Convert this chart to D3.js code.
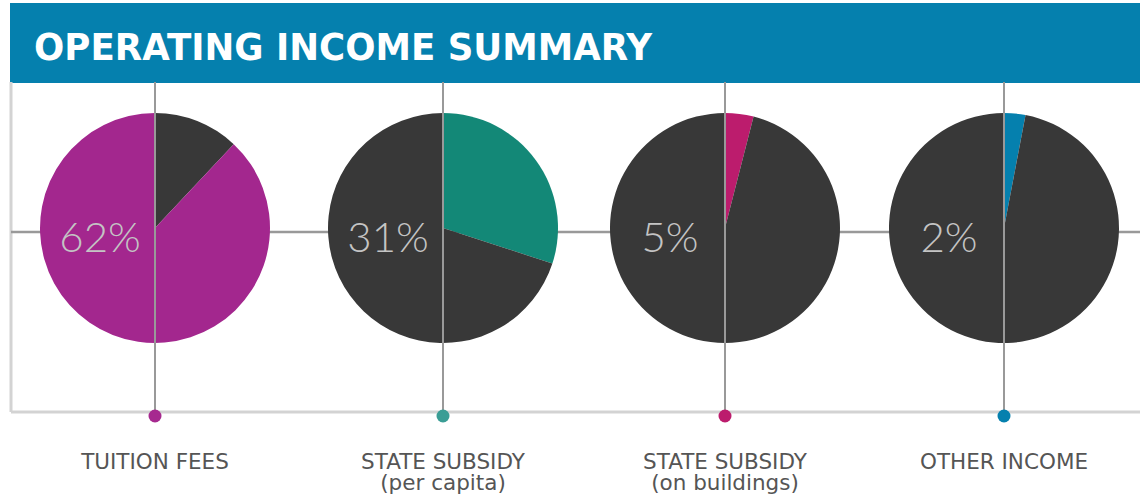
<!DOCTYPE html>
<html>
<head>
<meta charset="utf-8">
<script src="https://cdn.jsdelivr.net/npm/d3@7"></script>
<style>
  body { margin: 0; background: #fff; }
</style>
</head>
<body>
<div id="chart"></div>
<script>
// categories (second line of a label after "|")
const categories = ["TUITION FEES", "STATE SUBSIDY|(per capita)", "STATE SUBSIDY|(on buildings)", "OTHER INCOME"];
// printed percentages
const pctLabels = ["62%", "31%", "5%", "2%"];
// coloured slice as drawn, % of the circle
const highlight = [88, 30, 4, 3];
// tuition pie draws its dark wedge first
const darkFirst = [true, false, false, false];
const colors = ["#a3278e", "#138877", "#bc1c6d", "#0580ae"];
const dotColors = ["#a6298f", "#3a9d95", "#bc1c6d", "#0580ae"];

function drawChart() {
  const width = 1140;
  const height = 495;
  const top = 82, bottom = 412, left = 11;
  const cy = 228, r = 115;

  const svg = d3.select("#chart")
    .append("svg")
    .attr("width", width)
    .attr("height", height);

  const x = d3.scaleOrdinal()
    .domain(categories)
    .range([155, 443, 725, 1004]);

  // banner
  svg.append("rect")
    .attr("x", 10)
    .attr("y", 3)
    .attr("width", width - 10)
    .attr("height", 80)
    .attr("fill", "#0580ae");

  svg.append("text")
    .attr("x", 34)
    .attr("y", 60)
    .attr("textLength", 618)
    .attr("lengthAdjust", "spacingAndGlyphs")
    .style("font-family", "'DejaVu Sans', sans-serif")
    .style("font-weight", "bold")
    .style("font-size", "38px")
    .style("fill", "#fff")
    .text("OPERATING INCOME SUMMARY");

  // frame
  svg.append("line")
    .attr("x1", left).attr("x2", left)
    .attr("y1", top).attr("y2", bottom)
    .attr("stroke", "#d3d3d3")
    .attr("stroke-width", 3);

  svg.append("line")
    .attr("x1", left).attr("x2", width)
    .attr("y1", bottom).attr("y2", bottom)
    .attr("stroke", "#d3d3d3")
    .attr("stroke-width", 3);

  // middle gridline, sits behind pies
  svg.append("line")
    .attr("x1", left).attr("x2", width)
    .attr("y1", 232).attr("y2", 232)
    .attr("stroke", "#999")
    .attr("stroke-width", 2.5);

  const pie = d3.pie().sort(null).value(d => d.v);
  const arc = d3.arc().innerRadius(0).outerRadius(r);

  categories.forEach((cat, i) => {
    const cx = x(cat);
    let slices = [
      { v: highlight[i], fill: colors[i] },
      { v: 100 - highlight[i], fill: "#383838" }
    ];
    if (darkFirst[i]) slices = slices.reverse();

    const g = svg.append("g")
      .attr("transform", `translate(${cx},${cy})`);

    g.selectAll("path")
      .data(pie(slices))
      .join("path")
      .attr("d", arc)
      .attr("fill", d => d.data.fill);

    g.append("text")
      .attr("x", -55)
      .attr("y", 24)
      .attr("text-anchor", "middle")
      .style("font-family", "Lato, 'Open Sans', sans-serif")
      .style("font-weight", 300)
      .style("font-size", "42px")
      .style("fill", "#c4c4c4")
      .text(pctLabels[i]);
  });

  // vertical lines and dots on top
  categories.forEach((cat, i) => {
    const cx = x(cat);
    svg.append("line")
      .attr("x1", cx).attr("x2", cx)
      .attr("y1", top).attr("y2", 414)
      .attr("stroke", "#999")
      .attr("stroke-width", 2);

    svg.append("circle")
      .attr("cx", cx)
      .attr("cy", 416)
      .attr("r", 6.5)
      .attr("fill", dotColors[i]);

    const lines = cat.split("|");
    const t = svg.append("text")
      .attr("text-anchor", "middle")
      .style("font-family", "'DejaVu Sans', sans-serif")
      .style("font-size", "21.5px")
      .style("fill", "#555");
    lines.forEach((ln, j) => {
      t.append("tspan")
        .attr("x", cx)
        .attr("y", 469 + j * 21)
        .text(ln);
    });
  });
}

window.onload = drawChart;
</script>
</body>
</html>
